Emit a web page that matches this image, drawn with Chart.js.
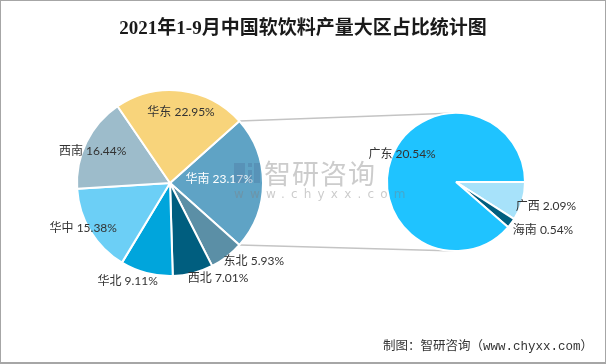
<!DOCTYPE html>
<html>
<head>
<meta charset="utf-8">
<script src="https://cdn.jsdelivr.net/npm/chart.js@4.4.0/dist/chart.umd.min.js"></script>
<style>
  html, body { margin: 0; padding: 0; background: #fff; overflow: hidden; }
  #wrap { position: relative; width: 606px; height: 364px; background: #fff; }
  #wrap canvas { position: absolute; left: 0; top: 0; }
  #frame { position: absolute; left: 0; top: 0; width: 606px; height: 364px; box-sizing: border-box;
           border: 1px solid #a6a6a6; border-bottom-width: 2px; pointer-events: none; z-index: 10; }
  #title { position: absolute; left: 0; top: 15px; width: 606px; text-align: center;
           font: bold 19px/26px "Liberation Serif", "DejaVu Serif", "Noto Sans CJK SC", serif; color: #1a1a1a; z-index: 5; }
  #source { position: absolute; right: 13px; top: 339px; font: 12.5px/16px "Liberation Mono", "Noto Sans CJK SC", monospace;
            color: #333; z-index: 5; white-space: nowrap; }
  #wm1 { position: absolute; left: 264px; top: 157px; font: 27px/32px "Noto Sans CJK SC", sans-serif; color: #808080;
         opacity: 0.4; letter-spacing: 1px; z-index: 6; pointer-events: none; }
  #wm2 { position: absolute; left: 234px; top: 187px; font: 12px/14px "DejaVu Sans", sans-serif; color: #808080;
         opacity: 0.4; letter-spacing: 6.2px; z-index: 6; pointer-events: none; }
  #logo { position: absolute; left: 234px; top: 163px; width: 26px; height: 20px; z-index: 6; opacity: 0.3; pointer-events: none; }
  #logo div { position: absolute; background: #4a6f9a; }
</style>
</head>
<body>
<div id="wrap">
  <canvas id="c1" width="606" height="364"></canvas>
  <canvas id="c2" width="606" height="364"></canvas>
  <div id="title">2021年1-9月中国软饮料产量大区占比统计图</div>
  <div id="logo"><div style="left:0;top:0;width:11px;height:20px"></div><div style="left:14px;top:0;width:4px;height:4px"></div><div style="left:14px;top:7px;width:4px;height:13px"></div><div style="left:20px;top:0;width:6px;height:20px"></div></div>
  <div id="wm1">智研咨询</div>
  <div id="wm2">www.chyxx.com</div>
  <div id="source">制图：智研咨询（www.chyxx.com）</div>
  <div id="frame"></div>
</div>
<script>
// ---- data ----
const mainCategories = ['华南', '东北', '西北', '华北', '华中', '西南', '华东'];
const mainValues = [23.17, 5.93, 7.01, 9.11, 15.38, 16.44, 22.95];
const subCategories = ['广西', '海南', '广东'];
const subValues = [2.09, 0.54, 20.54];

// ---- styles ----
const mainColors = ['#5fa3c5', '#5b8fa6', '#005e7f', '#00a5dc', '#6ccff6', '#9dbccb', '#f8d47b'];
const subColors = ['#a7e2fa', '#005e7f', '#1fc3ff'];
const mainLabelColors = ['#ffffff', '#333', '#333', '#333', '#333', '#333', '#333'];
const subLabelColors = ['#333', '#333', '#333'];
// label placement: radius factor, angle shift (deg) relative to slice middle
const mainLabelPlace = [[0.53, -4.7], [1.23, -9.5], [1.145, -12.5], [1.15, 8.6], [1.05, 3.9], [0.90, -3.7], [0.77, 1.9]];
const subLabelPlace = [[1.35, -1.2], [1.44, -7.8], [0.88, 6.9]];
const labelFont = '12px Lato, "Noto Sans CJK SC", sans-serif';

function labelPlugin(cats, vals, place, colors) {
  return {
    id: 'sliceLabels',
    afterDatasetsDraw(chart) {
      const ctx = chart.ctx;
      const arcs = chart.getDatasetMeta(0).data;
      ctx.save();
      ctx.font = labelFont;
      ctx.textAlign = 'center';
      ctx.textBaseline = 'middle';
      arcs.forEach((arc, i) => {
        const p = arc.getProps(['x', 'y', 'startAngle', 'endAngle', 'outerRadius'], true);
        const mid = (p.startAngle + p.endAngle) / 2 + place[i][1] * Math.PI / 180;
        const r = p.outerRadius * place[i][0];
        ctx.fillStyle = colors[i];
        ctx.fillText(cats[i] + ' ' + vals[i].toFixed(2) + '%', p.x + Math.cos(mid) * r, p.y + Math.sin(mid) * r);
      });
      ctx.restore();
    }
  };
}

const mainSum = mainValues.reduce((a, b) => a + b, 0);
const mainRotation = 90 - mainValues[0] / mainSum * 180;

const chart2 = new Chart(document.getElementById('c2'), {
  type: 'pie',
  data: { labels: subCategories, datasets: [{ data: subValues, backgroundColor: subColors, borderColor: '#ffffff', borderWidth: 2 }] },
  options: {
    responsive: false, animation: false, events: [],
    rotation: 90,
    layout: { padding: { left: 386, right: 80, top: 112, bottom: 112 } },
    plugins: { legend: { display: false }, tooltip: { enabled: false } }
  },
  plugins: [labelPlugin(subCategories, subValues, subLabelPlace, subLabelColors)]
});

const connectorPlugin = {
  id: 'connectors',
  beforeDatasetsDraw(chart) {
    const a = chart.getDatasetMeta(0).data[0].getProps(['x', 'y', 'startAngle', 'endAngle', 'outerRadius'], true);
    const b = chart2.getDatasetMeta(0).data[0].getProps(['x', 'y', 'outerRadius'], true);
    const ctx = chart.ctx;
    ctx.save();
    ctx.strokeStyle = '#c4c4c4';
    ctx.lineWidth = 1.5;
    ctx.beginPath();
    ctx.moveTo(a.x + Math.cos(a.startAngle) * a.outerRadius, a.y + Math.sin(a.startAngle) * a.outerRadius);
    ctx.lineTo(b.x, b.y - b.outerRadius);
    ctx.moveTo(a.x + Math.cos(a.endAngle) * a.outerRadius, a.y + Math.sin(a.endAngle) * a.outerRadius);
    ctx.lineTo(b.x, b.y + b.outerRadius);
    ctx.stroke();
    ctx.restore();
  }
};

const chart1 = new Chart(document.getElementById('c1'), {
  type: 'pie',
  data: { labels: mainCategories, datasets: [{ data: mainValues, backgroundColor: mainColors, borderColor: '#ffffff', borderWidth: 2 }] },
  options: {
    responsive: false, animation: false, events: [],
    rotation: mainRotation,
    layout: { padding: { left: 76, right: 342, top: 89, bottom: 87 } },
    plugins: { legend: { display: false }, tooltip: { enabled: false } }
  },
  plugins: [connectorPlugin, labelPlugin(mainCategories, mainValues, mainLabelPlace, mainLabelColors)]
});
</script>
</body>
</html>
